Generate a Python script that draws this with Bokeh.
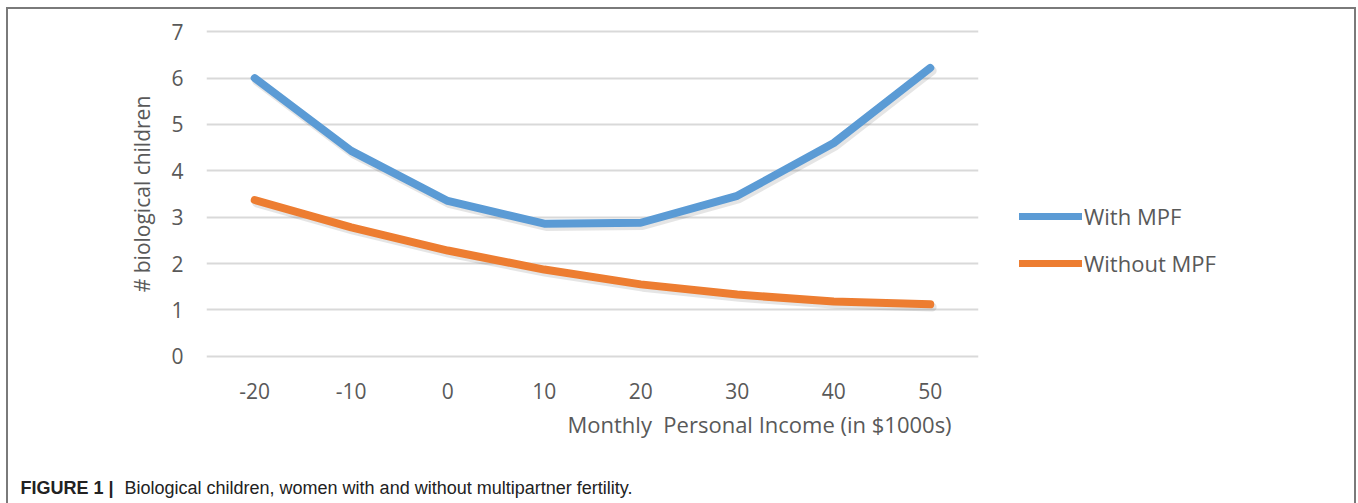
from bokeh.plotting import figure
from bokeh.layouts import column, row
from bokeh.models import (ColumnDataSource, Legend, LegendItem, Label, Title,
                          FixedTicker, NumeralTickFormatter)
from bokeh.transform import dodge
from bokeh.embed import file_html
from bokeh.resources import INLINE

income = [-20, -10, 0, 10, 20, 30, 40, 50]
with_mpf = [6.0, 4.43, 3.35, 2.86, 2.88, 3.46, 4.6, 6.22]
without_mpf = [3.37, 2.78, 2.28, 1.87, 1.55, 1.33, 1.18, 1.12]
y_ticks = [0, 1, 2, 3, 4, 5, 6, 7]
series_names = ["With MPF", "Without MPF"]
colors = ["#5B9BD5", "#ED7D31"]
x_title = "Monthly\u00a0 Personal Income (in $1000s)"
y_title = "# biological children"
caption_bold = "FIGURE 1 |"
caption_text = "Biological children, women with and without multipartner fertility."

src = ColumnDataSource(dict(x=income, w=with_mpf, wo=without_mpf))

FONT = "Open Sans"
TXT = "#595959"
LW = 8

# ---- main chart ----
p = figure(width=1000, height=467, output_backend="svg", toolbar_location=None,
           x_range=(-25, 55), y_range=(-0.2, 7.2),
           min_border_left=206, min_border_right=22, min_border_top=22, min_border_bottom=102)
p.outline_line_color = None

p.xgrid.grid_line_color = None
p.ygrid.grid_line_color = "#d9d9d9"
p.ygrid.grid_line_width = 2
p.ygrid.ticker = FixedTicker(ticks=y_ticks)

for ax in (p.xaxis[0], p.yaxis[0]):
    ax.axis_line_color = None
    ax.major_tick_line_color = None
    ax.minor_tick_line_color = None
    ax.major_tick_out = 0
    ax.minor_tick_out = 0
    ax.major_label_text_font = FONT
    ax.major_label_text_font_size = "21px"
    ax.major_label_text_color = TXT
p.xaxis.ticker = FixedTicker(ticks=income)
p.xaxis.formatter = NumeralTickFormatter(format="0")
p.yaxis.ticker = FixedTicker(ticks=y_ticks)
p.yaxis.formatter = NumeralTickFormatter(format="0")
p.xaxis.major_label_standoff = 17
p.yaxis.major_label_standoff = 23
p.yaxis.axis_label = y_title
p.yaxis.axis_label_text_font = FONT
p.yaxis.axis_label_text_font_size = "21px"
p.yaxis.axis_label_text_font_style = "normal"
p.yaxis.axis_label_text_color = TXT
p.yaxis.axis_label_standoff = 12

for col in ("w", "wo"):
    p.line(x=dodge("x", 0.2), y=dodge(col, -0.06), source=src, line_width=LW + 1,
           line_color="#000000", line_alpha=0.1, line_cap="round", line_join="round")

p.line("x", "w", source=src, line_width=LW, line_color=colors[0],
       line_cap="round", line_join="round")
p.line("x", "wo", source=src, line_width=LW, line_color=colors[1],
       line_cap="round", line_join="round")

p.add_layout(Title(text=x_title, align="left", offset=361, standoff=10,
                   text_font=FONT, text_font_size="22px", text_color=TXT,
                   text_font_style="normal"), "below")

# ---- legend panel ----
nan = float("nan")
lg = figure(width=358, height=467, output_backend="svg", toolbar_location=None,
            x_range=(0, 1), y_range=(0, 1), x_axis_type=None, y_axis_type=None,
            min_border=0)
lg.outline_line_color = None
lg.grid.visible = False
k1 = lg.line(x=[nan], y=[nan], line_width=LW - 1, line_color=colors[0], line_cap="round")
k2 = lg.line(x=[nan], y=[nan], line_width=LW - 1, line_color=colors[1], line_cap="round")
legend = Legend(items=[LegendItem(label=series_names[0], renderers=[k1]),
                       LegendItem(label=series_names[1], renderers=[k2])],
                location=(19, 87))
legend.label_text_font = FONT
legend.label_text_font_size = "22px"
legend.label_text_color = TXT
legend.glyph_width = 63
legend.glyph_height = 20
legend.label_height = 20
legend.label_standoff = 2
legend.spacing = 17
legend.padding = 0
legend.margin = 0
legend.border_line_color = None
legend.background_fill_alpha = 0
lg.add_layout(legend, "center")

# ---- caption ----
cap = figure(width=1358, height=36, output_backend="svg", toolbar_location=None,
             x_range=(0, 1), y_range=(0, 1), x_axis_type=None, y_axis_type=None,
             min_border=0)
cap.outline_line_color = None
cap.grid.visible = False
cap.add_layout(Label(x=20, y=16, x_units="screen", y_units="screen",
                     text=caption_bold, text_font="Liberation Sans", text_font_size="18px",
                     text_font_style="bold", text_color="#222222", text_baseline="middle"))
cap.add_layout(Label(x=124, y=16, x_units="screen", y_units="screen",
                     text=caption_text, text_font="Liberation Sans", text_font_size="18px",
                     text_color="#222222", text_baseline="middle"))

layout = column(row(p, lg, spacing=0), cap, spacing=0)
layout.stylesheets = [
    ":host { position: relative; }"
    " :host::after { content: ''; position: absolute; left: 6px; top: 7px; right: 2px;"
    " bottom: 0px; border: 2px solid #7a7a7a; border-bottom: none;"
    " pointer-events: none; z-index: 10; }"
]

open("out.html", "w").write(file_html(layout, INLINE))
